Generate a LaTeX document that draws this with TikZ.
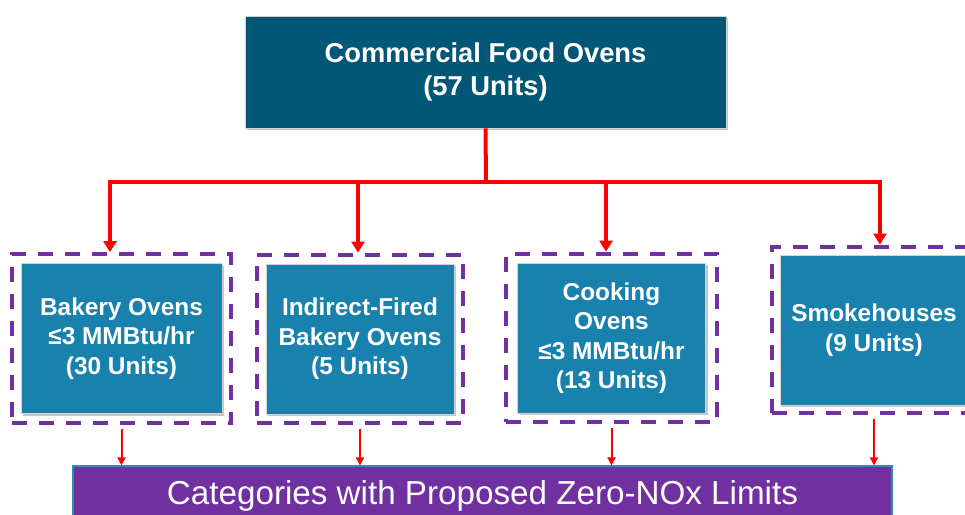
\documentclass[tikz,border=0pt]{standalone}
\usepackage{fontspec}
\setmainfont{Liberation Sans}
\usepackage{tikz}
\usetikzlibrary{arrows.meta, positioning, fit, shadows}
\definecolor{ovenblue}{RGB}{3,87,118}
\definecolor{catblue}{RGB}{24,129,173}
\definecolor{zeropurple}{RGB}{112,48,160}
\definecolor{barline}{RGB}{42,143,176}
\tikzstyle{block} = [rectangle, align=center, text=white, draw=gray!35,
    line width=0.8pt, drop shadow={shadow xshift=2pt, shadow yshift=-2pt, opacity=0.45}]
\tikzstyle{topblock} = [block, fill=ovenblue, minimum width=481pt,
    minimum height=112pt, font=\bfseries\fontsize{27.3}{33}\selectfont]
\tikzstyle{catblock} = [block, fill=catblue, minimum width=188pt,
    minimum height=150pt, font=\bfseries\fontsize{24.4}{29.5}\selectfont]
\tikzstyle{frame} = [rectangle, draw=zeropurple, line width=4pt,
    dash pattern=on 15pt off 12pt, inner sep=9pt]
\tikzstyle{zerobar} = [rectangle, fill=zeropurple, draw=barline, line width=1.2pt,
    minimum width=819pt, minimum height=60pt, text=white,
    font=\fontsize{33.2}{38}\selectfont]
\tikzstyle{arrow} = [red, line width=4pt, -{Triangle[width=13pt,length=11pt]}]
\tikzstyle{redline} = [red, line width=4pt]
\tikzstyle{thinarrow} = [red, line width=2pt, shorten <=4pt,
    -{Triangle[width=8pt,length=8pt]}]

\begin{document}
\begin{tikzpicture}[x=1pt, y=-1pt]
  \useasboundingbox (0,0) rectangle (965,514);

  \node[topblock] (food) at (485.5,72) {Commercial Food Ovens\\(57 Units)};

  \node[catblock, minimum width=201pt] (bakery) at (121.5,338.5)
    {Bakery Ovens\\≤3 MMBtu/hr\\(30 Units)};
  \node[catblock] (indirect) at (360,339)
    {Indirect-Fired\\Bakery Ovens\\(5 Units)};
  \node[catblock] (cooking) at (611.5,338)
    {Cooking\\Ovens\\≤3 MMBtu/hr\\(13 Units)};
  \node[catblock] (smoke) at (874,330) {Smokehouses\\(9 Units)};

  \node[frame, fit=(bakery)] (f1) {};
  \node[frame, fit=(indirect)] (f2) {};
  \node[frame, fit=(cooking), inner xsep=11pt] (f3) {};
  \node[frame, fit=(smoke), inner sep=8pt] (f4) {};

  \node[zerobar] (zero) at (482.5,496) {Categories with Proposed Zero-NOx Limits};

  \coordinate (split) at (486,182);
  \coordinate (t1) at (110,182);
  \coordinate (t2) at (358,182);
  \coordinate (t3) at (606,182);
  \coordinate (t4) at (880,182);

  \draw[redline](food.south)--(split);
  \draw[arrow](split)-|(f1.north -| t1);
  \draw[arrow](split)-|(f2.north -| t2);
  \draw[arrow](split)-|(f3.north -| t3);
  \draw[arrow](split)-|(f4.north -| t4);

  \draw[thinarrow](f1.south)--(f1.south |- zero.north);
  \draw[thinarrow](f2.south)--(f2.south |- zero.north);
  \draw[thinarrow](f3.south)--(f3.south |- zero.north);
  \draw[thinarrow](f4.south)--(f4.south |- zero.north);
\end{tikzpicture}
\end{document}
